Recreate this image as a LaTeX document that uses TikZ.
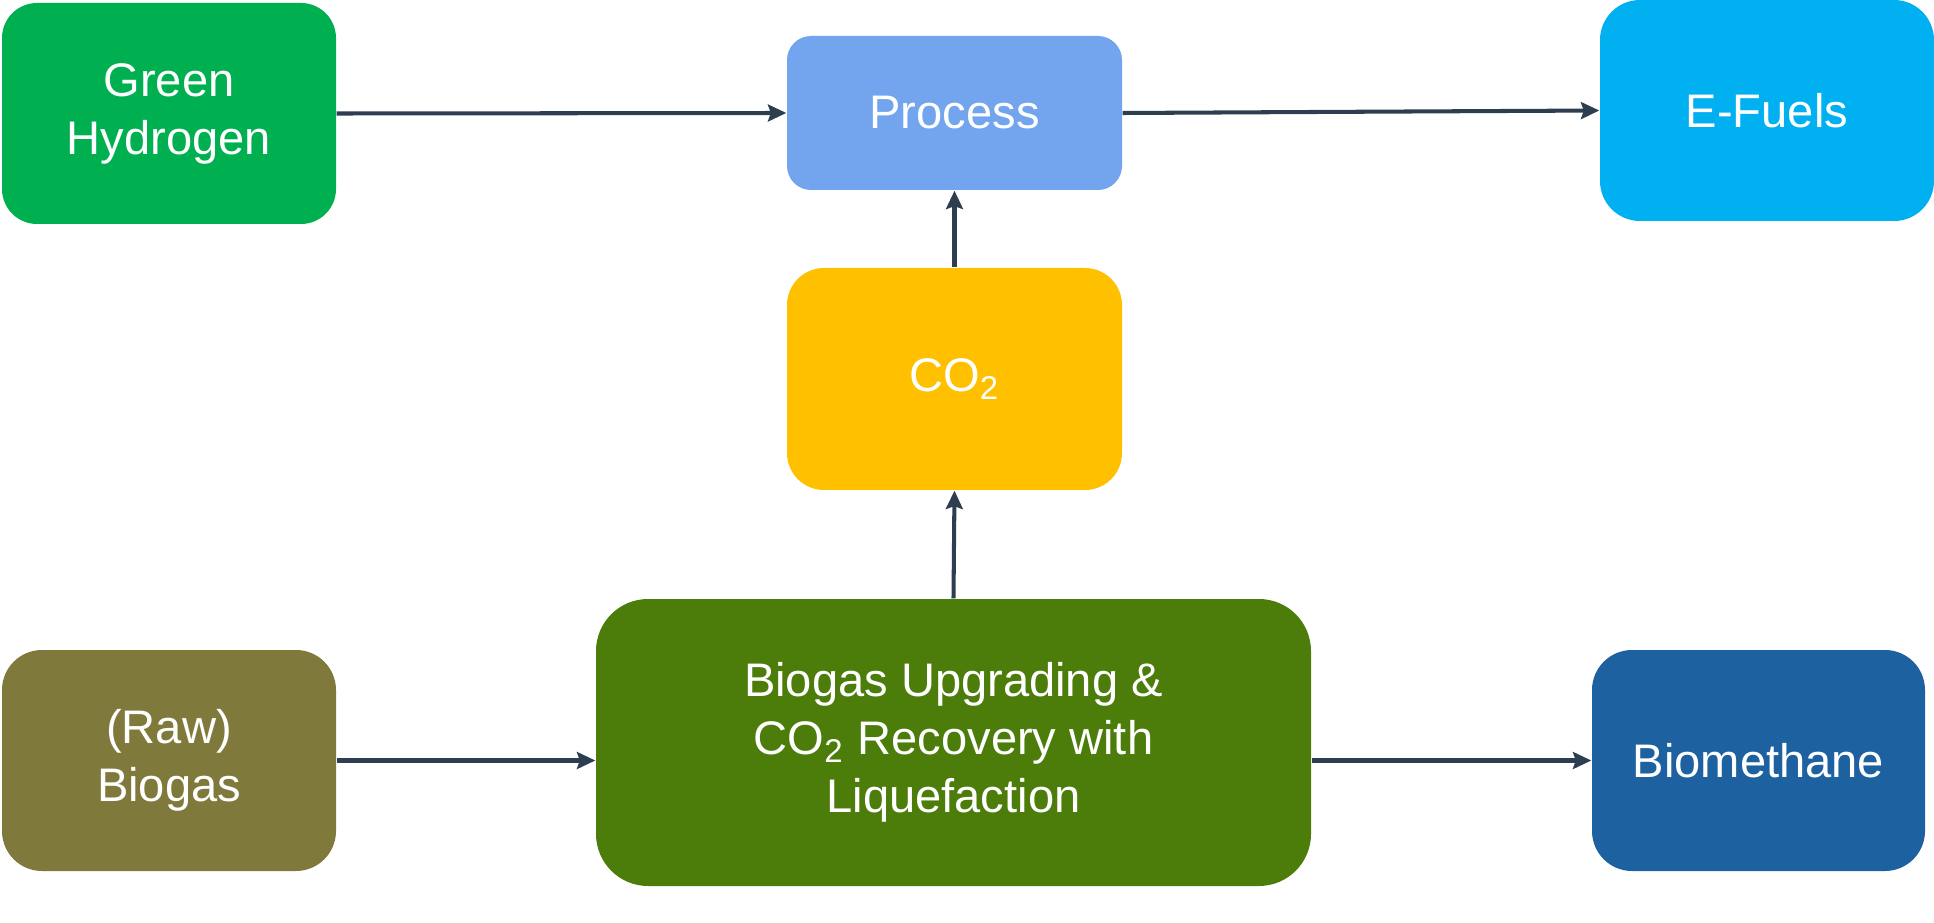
\documentclass[tikz,border=0pt]{standalone}
\usepackage{fontspec}
\setmainfont{Liberation Sans}
\usetikzlibrary{arrows.meta}

\definecolor{hydrogreen}{HTML}{00B050}
\definecolor{processblue}{HTML}{73A5EF}
\definecolor{fuelblue}{HTML}{00B0F0}
\definecolor{cotwoyellow}{HTML}{FFC000}
\definecolor{biogasolive}{HTML}{7F793B}
\definecolor{upgradegreen}{HTML}{4C7C0A}
\definecolor{methaneblue}{HTML}{1E61A0}
\definecolor{arrowgray}{HTML}{2C3E50}

\begin{document}
\begin{tikzpicture}[x=0.1mm,y=-0.1mm,
	box/.style={rectangle,text=white,align=center,inner sep=0pt,
		font=\fontsize{13.4pt}{16.5pt}\selectfont},
	flow/.style={draw=arrowgray,line width=1.15pt,-{Stealth[length=5.2pt,width=4.8pt,inset=0.8pt]}}]
	\useasboundingbox (0,0) rectangle (1934,923);

	%BOXES
	\node[box,fill=hydrogreen,rounded corners=3.5mm,minimum width=33.4mm,minimum height=22.1mm] (gh) at (169,113.5) {Green\\Hydrogen};
	\node[box,fill=processblue,rounded corners=2.4mm,minimum width=33.5mm,minimum height=15.4mm] (process) at (954.5,113) {Process};
	\node[box,fill=fuelblue,rounded corners=4mm,minimum width=33.4mm,minimum height=22.1mm] (efuels) at (1767,110.5) {E-Fuels};
	\node[box,fill=cotwoyellow,rounded corners=3.7mm,minimum width=33.5mm,minimum height=22.2mm] (cotwo) at (954.5,379) {CO\textsubscript{2}};
	%
	\node[box,fill=biogasolive,rounded corners=4mm,minimum width=33.4mm,minimum height=22.1mm] (raw) at (169,760.5) {(Raw)\\Biogas};
	\node[box,fill=upgradegreen,rounded corners=5.2mm,minimum width=71.5mm,minimum height=28.7mm] (upgrade) at (953.5,742.5) {Biogas Upgrading \&\\CO\textsubscript{2} Recovery with\\Liquefaction};
	\node[box,fill=methaneblue,rounded corners=4mm,minimum width=33.3mm,minimum height=22.1mm] (biometh) at (1758.5,760.5) {Biomethane};

	%ARROWS
	\draw[flow] (gh.east)--(process.west);
	\draw[flow] (process.east)--(efuels.west);
	\draw[flow] (cotwo.north)--(process.south);
	\draw[flow] (upgrade.north)--(cotwo.south);
	%
	\draw[flow] (raw.east)--(raw.east -| upgrade.west);
	\draw[flow] (upgrade.east |- biometh.west)--(biometh.west);
\end{tikzpicture}
\end{document}
